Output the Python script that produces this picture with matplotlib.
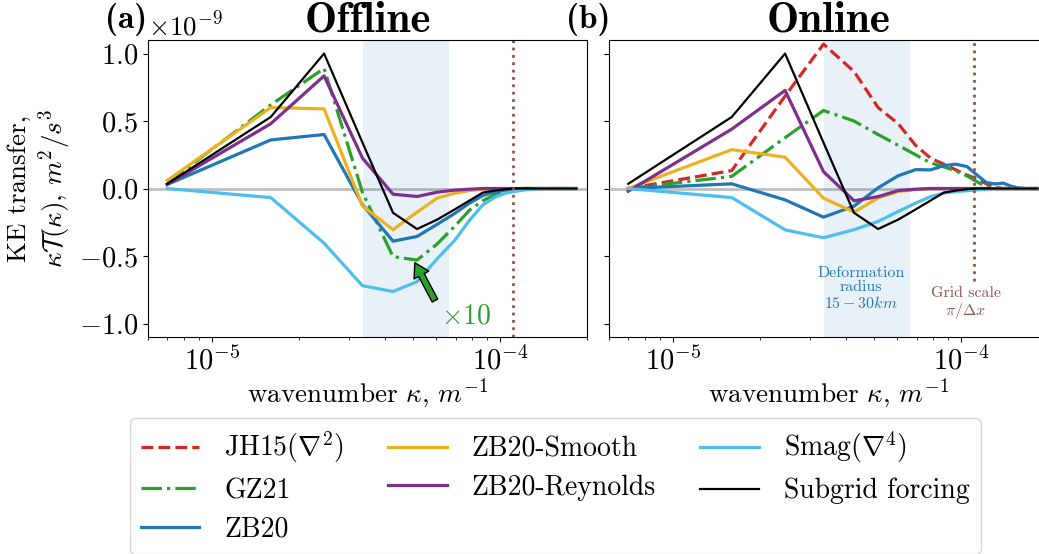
import numpy as np
import matplotlib
matplotlib.use('Agg')
import matplotlib.pyplot as plt
from matplotlib.ticker import NullFormatter

plt.rcParams['font.family'] = 'serif'
plt.rcParams['font.serif'] = ['cmr10']
plt.rcParams['mathtext.fontset'] = 'cm'
plt.rcParams['axes.formatter.use_mathtext'] = True
plt.rcParams['axes.unicode_minus'] = False
plt.rcParams['font.size'] = 20

# wavenumbers, 1/m (in units of 1e-6)
kappa = [7.0, 16.0, 24.5, 33.3, 42.5, 51.5, 60.5, 69.5, 78.3, 87.1, 95.9,
         104.7, 113.5, 122.3, 131.1, 139.9, 148.7, 157.5, 166.3, 175.1, 183.9]

# KE transfer spectra, m^2/s^3 (in units of 1e-9)
subgrid = [0.035, 0.53, 1.0, 0.34, -0.18, -0.30, -0.23, -0.155, -0.089, -0.03, -0.015,
           -0.005, 0, 0, 0, 0, 0, 0, 0, 0, 0]

# offline
off_gz21 = [0.04, 0.62, 0.89, -0.03, -0.505, -0.53, -0.41, -0.28, -0.16, -0.09, -0.045,
            -0.02, -0.008, 0, 0, 0, 0, 0, 0, 0, 0]
off_zb20 = [0.03, 0.36, 0.40, -0.12, -0.39, -0.355, -0.265, -0.185, -0.108, -0.052, -0.025,
            -0.012, -0.004, 0, 0, 0, 0, 0, 0, 0, 0]
off_smooth = [0.06, 0.60, 0.59, -0.13, -0.305, -0.175, -0.07, -0.035, -0.015, -0.005, 0,
              0, 0, 0, 0, 0, 0, 0, 0, 0, 0]
off_reynolds = [0.03, 0.48, 0.835, 0.225, -0.042, -0.059, -0.027, -0.012, -0.005, 0, 0,
                0, 0, 0, 0, 0, 0, 0, 0, 0, 0]
off_smag = [0.0, -0.067, -0.405, -0.72, -0.763, -0.69, -0.52, -0.385, -0.235, -0.121, -0.064,
            -0.034, -0.02, -0.01, -0.004, 0, 0, 0, 0, 0, 0]

# online
on_jh15 = [0.0, 0.133, 0.685, 1.07, 0.867, 0.60, 0.48, 0.32, 0.225, 0.18, 0.138,
           0.10, 0.07, 0.035, 0.01, 0, 0, 0, 0, 0, 0]
on_gz21 = [0.0, 0.09, 0.377, 0.578, 0.50, 0.40, 0.32, 0.25, 0.19, 0.16, 0.13,
           0.094, 0.05, 0.01, 0, 0, 0, 0, 0, 0, 0]
on_zb20 = [0.0, 0.035, -0.084, -0.212, -0.13, 0.005, 0.095, 0.14, 0.138, 0.17, 0.18,
           0.163, 0.10, 0.044, 0.034, 0.04, 0.018, 0.005, 0, 0, 0]
on_smooth = [0.0, 0.288, 0.232, -0.071, -0.175, -0.07, -0.022, -0.008, 0, 0, 0,
             0, 0, 0, 0, 0, 0, 0, 0, 0, 0]
on_reynolds = [-0.02, 0.44, 0.727, 0.125, -0.091, -0.06, -0.015, -0.005, 0, 0, 0,
               0, 0, 0, 0, 0, 0, 0, 0, 0, 0]
on_smag = [0.0, -0.067, -0.306, -0.365, -0.305, -0.244, -0.17, -0.108, -0.06, -0.034, -0.022,
           -0.017, -0.01, -0.005, 0, 0, 0, 0, 0, 0, 0]

k = np.array(kappa) * 1e-6
sc = 1e-9

c_jh = 'tab:red'
c_gz = 'tab:green'
c_zb = 'tab:blue'
c_smooth = '#EDB120'
c_rey = '#7E2F8E'
c_smag = '#4DBEEE'
lw = 2.3

fig = plt.figure(figsize=(10.39, 5.54), dpi=100)
ax1 = fig.add_axes([0.1424, 0.3917, 0.4225, 0.536])
ax2 = fig.add_axes([0.5861, 0.3917, 0.4225, 0.536])

for ax in [ax1, ax2]:
    ax.axhline(0, color='gray', alpha=0.5, lw=2, zorder=1)
    ax.axvspan(1 / 30e3, 1 / 15e3, color='tab:blue', alpha=0.1, lw=0)

# Offline
ax1.plot(k, np.array(off_gz21) * sc, color=c_gz, ls='-.', lw=lw)
ax1.plot(k, np.array(off_zb20) * sc, color=c_zb, lw=lw)
ax1.plot(k, np.array(off_smooth) * sc, color=c_smooth, lw=lw)
ax1.plot(k, np.array(off_reynolds) * sc, color=c_rey, lw=lw)
ax1.plot(k, np.array(off_smag) * sc, color=c_smag, lw=lw)
ax1.plot(k, np.array(subgrid) * sc, color='k', lw=1.6)
ax1.axvline(1.105e-4, color='tab:brown', ls=':', lw=2)

ax1.annotate('', xy=(5.06e-5, -0.55e-9), xytext=(5.94e-5, -0.83e-9),
             arrowprops=dict(facecolor=c_gz, edgecolor='k', width=4.5, headwidth=12,
                             headlength=10, shrink=0))
ax1.text(7.6e-5, -0.95e-9, r'$\times 10$', color=c_gz, fontsize=20, ha='center', va='center')

# Online
ax2.plot(k, np.array(on_jh15) * sc, color=c_jh, ls='--', lw=lw, label=r'JH15($\nabla^2$)')
ax2.plot(k, np.array(on_gz21) * sc, color=c_gz, ls='-.', lw=lw, label='GZ21')
ax2.plot(k, np.array(on_zb20) * sc, color=c_zb, lw=lw, label='ZB20')
ax2.plot(k, np.array(on_smooth) * sc, color=c_smooth, lw=lw, label='ZB20-Smooth')
ax2.plot(k, np.array(on_reynolds) * sc, color=c_rey, lw=lw, label='ZB20-Reynolds')
ax2.plot(k, np.array(on_smag) * sc, color=c_smag, lw=lw, label=r'Smag($\nabla^4$)')
ax2.plot(k, np.array(subgrid) * sc, color='k', lw=1.6, label='Subgrid forcing')
ax2.axvline(1.105e-4, ymin=0.19, color='tab:brown', ls=':', lw=2)

ax2.text(4.5e-5, -0.74e-9, 'Deformation\nradius\n$15-30km$', color='tab:blue',
         fontsize=11.5, ha='center', va='center', linespacing=1.05)
ax2.text(1.038e-4, -0.855e-9, 'Grid scale\n$\\pi/\\Delta x$', color='tab:brown',
         fontsize=11.5, ha='center', va='center', linespacing=1.05)

for ax in [ax1, ax2]:
    ax.set_xscale('log')
    ax.set_xlim(6e-6, 2e-4)
    ax.set_ylim(-1.1e-9, 1.1e-9)
    ax.set_yticks([-1e-9, -0.5e-9, 0, 0.5e-9, 1e-9])
    ax.xaxis.set_minor_formatter(NullFormatter())
    ax.tick_params(labelsize=20.5)
    ax.set_xlabel(r'wavenumber $\kappa$, $m^{-1}$', fontsize=19.5, labelpad=1)

ax2.set_yticklabels([])
ax1.set_ylabel('KE transfer,\n' + r'$\kappa\mathcal{T}(\kappa)$, $m^2/s^3$', fontsize=19.5)
ax1.yaxis.get_offset_text().set_fontsize(19.5)

ax1.set_title('Offline', fontfamily='cmb10', fontsize=31, pad=3)
ax2.set_title('Online', fontfamily='cmb10', fontsize=31, pad=3)
ax1.text(-0.05, 1.015, '(a)', transform=ax1.transAxes, fontfamily='cmb10', fontsize=24,
         ha='center', va='bottom')
ax2.text(-0.048, 1.015, '(b)', transform=ax2.transAxes, fontfamily='cmb10', fontsize=24,
         ha='center', va='bottom')

fig.legend(*ax2.get_legend_handles_labels(), loc='lower left', bbox_to_anchor=(0.125, 0.0),
           ncol=3, fontsize=20, handlelength=2.1, handletextpad=0.9, columnspacing=1.6,
           labelspacing=0.45, borderaxespad=0)

fig.savefig('out.png', dpi=100)
